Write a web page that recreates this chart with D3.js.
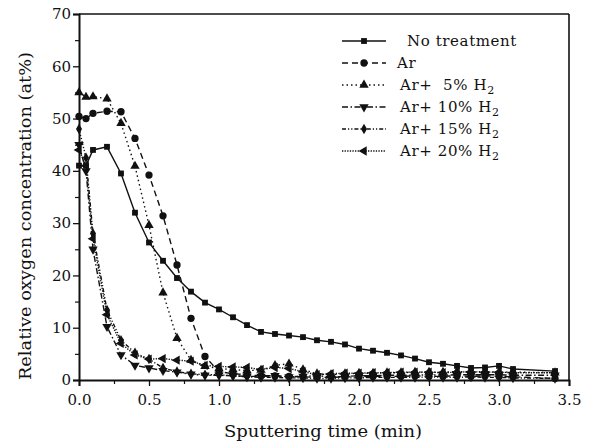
<!DOCTYPE html>
<html><head><meta charset="utf-8">
<script src="https://cdn.jsdelivr.net/npm/d3@7"></script>
<style>
html,body{margin:0;padding:0;background:#fff;}
svg text{font-family:"DejaVu Serif","Liberation Serif",serif;fill:#111;white-space:pre;}
</style></head>
<body><svg id="c" width="592" height="444"></svg>
<script>
// ---- data ----
const tMain = [0,0.05,0.1,0.2,0.3,0.4,0.5,0.6,0.7,0.8,0.9,1.0,1.1,1.2,1.3,1.4,1.5,1.6,1.7,1.8,1.9,2.0,2.1,2.2,2.3,2.4,2.5,2.6,2.7,2.8,2.9,3.0,3.1,3.4];
const noTreatment = [41,41,44,44.6,39.5,32,26.3,22.8,19.5,16.9,14.8,13.5,12.0,10.5,9.2,8.8,8.5,8.2,7.6,7.3,6.8,6.0,5.6,5.2,4.7,4.1,3.4,3.1,2.7,2.3,2.4,2.7,2.1,1.7];
const ar       = [50.4,50.0,51.0,51.4,51.3,46.2,39.2,31.4,22.0,11.8,4.5,1.6,1.2,1.0,0.8,0.8,0.7,0.6,0.5,0.5,0.6,0.6,0.7,0.7,0.7,0.8,0.7,0.7,0.8,0.7,0.8,0.7,0.6,0.3];
const ar5      = [55.0,54.1,54.2,53.8,49.1,40.9,29.6,16.7,8.0,3.8,2.6,2.2,2.0,1.8,1.9,2.8,3.1,2.0,1.2,1.0,1.2,1.3,1.3,1.4,1.4,1.5,1.5,1.5,1.6,1.5,1.6,1.5,1.5,1.4];
const ar10     = [45.0,40.0,25.0,10.2,4.8,2.8,2.3,1.8,1.5,1.1,0.9,0.9,0.8,0.7,0.7,0.8,0.6,0.7,0.8,0.6,0.7,0.8,0.8,0.9,0.9,0.9,1.0,0.9,1.0,1.0,1.0,1.0,0.9,0.9];
const ar15     = [48.0,42.5,28.0,13.4,7.6,5.2,4.0,2.3,1.6,1.2,1.0,1.0,0.8,0.6,0.5,0.5,0.4,0.4,0.3,0.3,0.4,0.4,0.5,0.5,0.5,0.5,0.6,0.5,0.5,0.6,0.5,0.5,0.4,0.3];
const ar20     = [44.0,41.0,27.0,12.5,7.0,4.8,4.0,4.1,3.8,3.6,2.8,2.6,2.5,2.4,2.0,2.4,2.2,1.6,1.0,1.2,1.3,1.3,1.4,1.4,1.5,1.5,1.5,1.4,1.5,1.6,1.5,1.5,1.4,1.4];
const seriesNames = ["No treatment","Ar","Ar+  5% H","Ar+ 10% H","Ar+ 15% H","Ar+ 20% H"];
const seriesValues = [noTreatment, ar, ar5, ar10, ar15, ar20];
const xTicks = [0,0.5,1.0,1.5,2.0,2.5,3.0,3.5];
const yTicks = [0,10,20,30,40,50,60,70];

// ---- styles ----
const dashes = [null,"6,4","1.5,3","6,2.5,1.5,2.5","4,2,1.2,2,1.2,2","1.3,1.3"];
const shapes = [d3.symbolSquare, d3.symbolCircle, d3.symbolTriangle, "tdown", d3.symbolDiamond, "tleft"];

const svg = d3.select("#c");
const x = d3.scaleLinear().domain([0,3.5]).range([79,569]);
const y = d3.scaleLinear().domain([0,70]).range([380,14]);

function marker(g, k, cx, cy){
  const s = shapes[k];
  if (s === "tdown"){
    g.append("path").attr("d", d3.symbol(d3.symbolTriangle,38)()).attr("transform",`translate(${cx},${cy}) rotate(180)`);
  } else if (s === "tleft"){
    g.append("path").attr("d", d3.symbol(d3.symbolTriangle,38)()).attr("transform",`translate(${cx},${cy}) rotate(-90)`);
  } else {
    const size = s===d3.symbolSquare?34: s===d3.symbolCircle?42: s===d3.symbolDiamond?32:38;
    g.append("path").attr("d", d3.symbol(s,size)()).attr("transform",`translate(${cx},${cy})`);
  }
}

// series
const line = d3.line().x(d=>x(d[0])).y(d=>y(d[1]));
seriesValues.forEach((vals,k)=>{
  const pts = tMain.map((t,i)=>[t,vals[i]]);
  const g = svg.append("g");
  g.append("path").attr("d", line(pts)).attr("fill","none").attr("stroke","#111")
    .attr("stroke-width",1.4).attr("stroke-dasharray",dashes[k]);
  const mg = g.append("g").attr("fill","#111");
  pts.forEach(p=>marker(mg,k,x(p[0]),y(p[1])));
});

// frame
svg.append("line").attr("x1",79).attr("x2",569).attr("y1",14).attr("y2",14).attr("stroke","#111").attr("stroke-width",1.6);
svg.append("line").attr("x1",569).attr("x2",569).attr("y1",14).attr("y2",380).attr("stroke","#111").attr("stroke-width",1.6);

// axes
const xAxis = d3.axisBottom(x).tickValues(xTicks).tickFormat(d3.format(".1f")).tickSize(6).tickPadding(8);
const gx = svg.append("g").attr("transform","translate(0,380)").call(xAxis);
gx.selectAll(".tick line").attr("stroke","#111").attr("stroke-width",1.3);
gx.select(".domain").attr("stroke","#111").attr("stroke-width",2);
gx.selectAll("text").attr("font-size",15).attr("font-family","DejaVu Serif");
const gxm = svg.append("g").attr("transform","translate(0,380)").call(d3.axisBottom(x).tickValues(d3.range(0.25,3.5,0.5)).tickSize(4).tickFormat(""));
gxm.select(".domain").remove();
gxm.selectAll(".tick line").attr("stroke","#111").attr("stroke-width",1.2);

const yAxis = d3.axisLeft(y).tickValues(yTicks).tickSize(6).tickPadding(2);
const gy = svg.append("g").attr("transform","translate(79,0)").call(yAxis);
gy.selectAll(".tick line").attr("stroke","#111").attr("stroke-width",1.3);
gy.select(".domain").attr("stroke","#111").attr("stroke-width",2);
gy.selectAll("text").attr("font-size",15).attr("font-family","DejaVu Serif");
const gym = svg.append("g").attr("transform","translate(79,0)").call(d3.axisLeft(y).tickValues(d3.range(5,70,10)).tickSize(4).tickFormat(""));
gym.select(".domain").remove();
gym.selectAll(".tick line").attr("stroke","#111").attr("stroke-width",1.2);

// titles
svg.append("text").attr("x",323).attr("y",437).attr("text-anchor","middle").attr("font-size",17)
  .attr("textLength",198).attr("lengthAdjust","spacingAndGlyphs").text("Sputtering time (min)");
svg.append("text").attr("transform","translate(31,216) rotate(-90)").attr("text-anchor","middle").attr("font-size",17)
  .attr("textLength",328).attr("lengthAdjust","spacingAndGlyphs").text("Relative oxygen concentration (at%)");

// legend
const legY0 = 41, legDy = 22;
const textX = [407,397,400,400,400,400];
seriesNames.forEach((name,k)=>{
  const ly = legY0 + k*legDy;
  const g = svg.append("g");
  g.append("line").attr("x1",342).attr("x2",386).attr("y1",ly).attr("y2",ly).attr("stroke","#111")
    .attr("stroke-width",1.4).attr("stroke-dasharray",dashes[k]);
  const mg = g.append("g").attr("fill","#111");
  marker(mg,k,364,ly);
  const t = g.append("text").attr("x",textX[k]).attr("y",ly+5).attr("font-size",15).attr("letter-spacing",0.6);
  t.append("tspan").text(name);
  if (k>=2) t.append("tspan").attr("font-size",11).attr("dy",4).text("2");
});
</script></body></html>
